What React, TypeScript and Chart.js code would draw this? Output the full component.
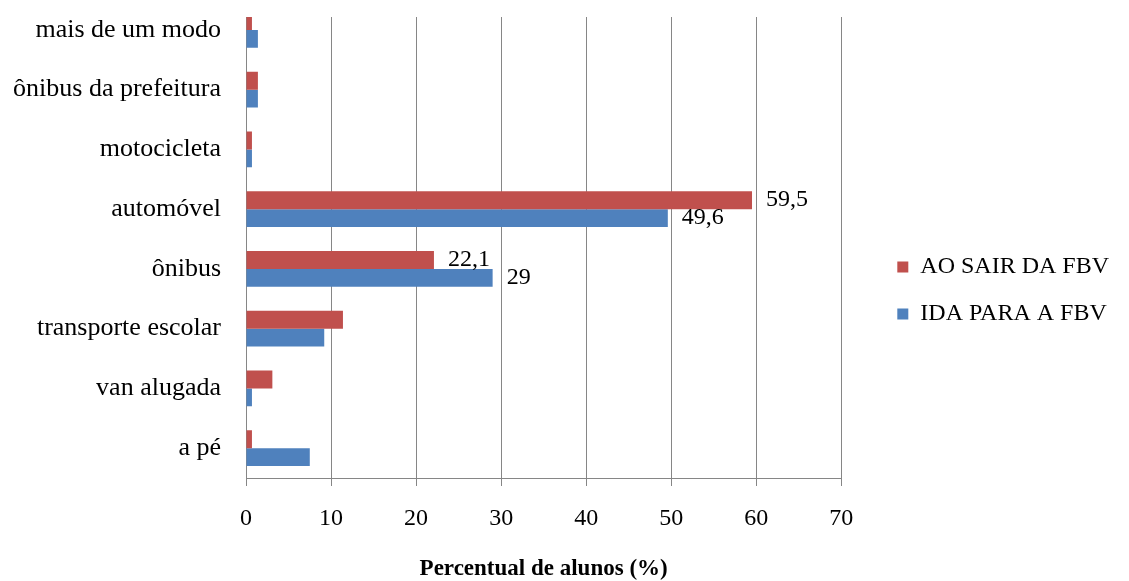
import React, { useEffect, useRef } from "react";
import { Chart, registerables } from "chart.js";

Chart.register(...registerables);

const categories = [
  "mais de um modo",
  "ônibus da prefeitura",
  "motocicleta",
  "automóvel",
  "ônibus",
  "transporte escolar",
  "van alugada",
  "a pé",
];
const seriesNames = ["AO SAIR DA FBV", "IDA PARA A FBV"];
const saidaValues = [0.7, 1.4, 0.7, 59.5, 22.1, 11.4, 3.1, 0.7];
const idaValues = [1.4, 1.4, 0.7, 49.6, 29, 9.2, 0.7, 7.5];
const labeledCategories = ["automóvel", "ônibus"];
const xMin = 0;
const xMax = 70;
const xStep = 10;
const xAxisTitle = "Percentual de alunos (%)";

const FONT = "'Liberation Serif', 'Times New Roman', serif";
const RED = "#C0504D";
const BLUE = "#4F81BD";
const GRID = "#868686";

const dataLabelPlugin = {
  id: "dataLabelPlugin",
  afterDatasetsDraw(chart: any) {
    const ctx = chart.ctx;
    const area = chart.chartArea;
    // mask the top strip of the plot (the source image starts its plot frame lower)
    ctx.save();
    ctx.fillStyle = "#ffffff";
    ctx.fillRect(area.left - 1, 0, area.right - area.left + 3, area.top + 17);
    ctx.restore();

    ctx.save();
    ctx.font = `24px ${FONT}`;
    ctx.fillStyle = "#000000";
    ctx.textAlign = "left";
    ctx.textBaseline = "middle";
    chart.data.datasets.forEach((ds: any, di: number) => {
      const meta = chart.getDatasetMeta(di);
      meta.data.forEach((el: any, i: number) => {
        if (!labeledCategories.includes(categories[i])) return;
        const v = ds.data[i];
        const txt = String(v).replace(".", ",");
        ctx.fillText(txt, el.x + 14, el.y);
      });
    });
    ctx.restore();
  },
};

export default function App() {
  const ref = useRef<HTMLCanvasElement | null>(null);

  useEffect(() => {
    if (!ref.current) return;
    const chart = new Chart(ref.current, {
      type: "bar",
      data: {
        labels: categories,
        datasets: [
          {
            label: seriesNames[0],
            data: saidaValues,
            backgroundColor: RED,
            borderWidth: 0,
            categoryPercentage: 0.6,
            barPercentage: 1,
          },
          {
            label: seriesNames[1],
            data: idaValues,
            backgroundColor: BLUE,
            borderWidth: 0,
            categoryPercentage: 0.6,
            barPercentage: 1,
          },
        ],
      },
      options: {
        indexAxis: "y",
        responsive: false,
        animation: false,
        layout: { padding: { top: 0, left: 0, bottom: 0, right: 10 } },
        plugins: {
          tooltip: { enabled: false },
          legend: {
            position: "right",
            maxWidth: 400,
            labels: {
              boxWidth: 11,
              boxHeight: 11,
              padding: 23,
              color: "#000000",
              font: { family: FONT, size: 24 },
            },
          },
        },
        scales: {
          x: {
            type: "linear",
            min: xMin,
            max: xMax,
            grid: {
              display: true,
              color: GRID,
              lineWidth: 1,
              drawTicks: true,
              tickLength: 8,
              tickColor: GRID,
            },
            border: { display: true, color: GRID, width: 1 },
            ticks: {
              stepSize: xStep,
              color: "#000000",
              padding: 18,
              font: { family: FONT, size: 24 },
            },
            title: {
              display: true,
              text: xAxisTitle,
              color: "#000000",
              padding: { top: 0, bottom: 0 },
              font: { family: FONT, size: 23, weight: "bold", lineHeight: 1 },
            },
            afterFit(scale: any) {
              scale.height = 103;
              scale.paddingLeft = 0;
              scale.paddingRight = 0;
            },
          },
          y: {
            type: "category",
            position: "left",
            grid: { display: false, drawTicks: false },
            border: { display: true, color: GRID, width: 1 },
            ticks: {
              color: "#000000",
              padding: 25,
              font: { family: FONT, size: 26 },
            },
            afterFit(scale: any) {
              scale.width = 246;
              scale.paddingTop = 0;
              scale.paddingBottom = 0;
            },
          },
          yGap: {
            type: "linear",
            position: "right",
            display: true,
            grid: { display: false, drawTicks: false },
            border: { display: false },
            ticks: { display: false },
            afterFit(scale: any) {
              scale.width = 33;
              scale.paddingTop = 0;
              scale.paddingBottom = 0;
            },
          },
        },
      } as any,
      plugins: [dataLabelPlugin],
    });
    return () => chart.destroy();
  }, []);

  return (
    <div style={{ position: "absolute", left: 0, top: 0, width: 1129, height: 581, background: "#ffffff" }}>
      <canvas ref={ref} width={1129} height={581} style={{ display: "block" }} />
    </div>
  );
}
